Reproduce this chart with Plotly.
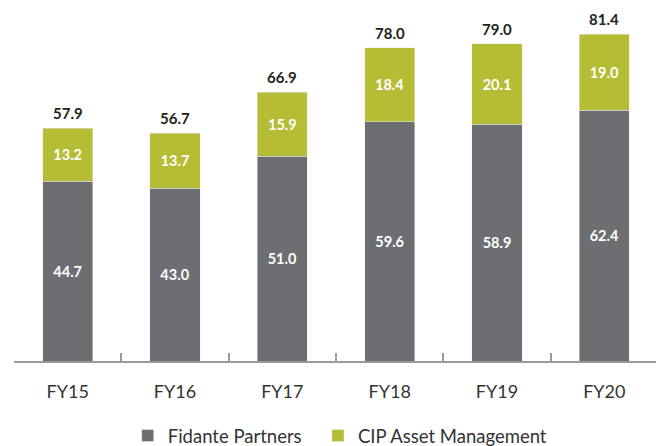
import plotly.graph_objects as go

categories = ["FY15", "FY16", "FY17", "FY18", "FY19", "FY20"]
fidante = [44.7, 43.0, 51.0, 59.6, 58.9, 62.4]
cip = [13.2, 13.7, 15.9, 18.4, 20.1, 19.0]
totals = [round(a + b, 1) for a, b in zip(fidante, cip)]

GRAY = "#6d6e71"
GREEN = "#b6bd34"
FONT = "Lato"

fig = go.Figure()
fig.add_trace(go.Bar(
    x=categories, y=fidante, name="Fidante Partners", marker_color=GRAY,
    text=[f"{v:.1f}" for v in fidante], textposition="inside",
    insidetextanchor="middle", legend="legend",
    textfont=dict(color="white", size=14.5, family=FONT, weight="bold"),
))
fig.add_trace(go.Bar(
    x=categories, y=cip, name="CIP Asset Management", marker_color=GREEN,
    text=[f"{v:.1f}" for v in cip], textposition="inside",
    insidetextanchor="middle", legend="legend2",
    textfont=dict(color="white", size=14.5, family=FONT, weight="bold"),
))
for c, t in zip(categories, totals):
    fig.add_annotation(x=c, y=t, text=f"{t:.1f}", showarrow=False,
                       yanchor="bottom", yshift=4,
                       font=dict(size=15, color="#222222", family=FONT, weight="bold"))

legend_style = dict(orientation="h", xanchor="left", y=-0.2125, yanchor="middle",
                    font=dict(size=18.5, color="#333333", family=FONT), itemwidth=30,
                    bgcolor="rgba(0,0,0,0)")

# page body has an 8px margin; figure sized to fill the rest of the window
fig.update_layout(
    barmode="stack", bargap=0.534,
    width=656, height=438,
    margin=dict(l=6.4, r=6.4, t=0, b=85, autoexpand=False),
    plot_bgcolor="white", paper_bgcolor="white",
    font=dict(family=FONT, color="#333333"),
    showlegend=True,
    legend=dict(x=0.1766, **legend_style),
    legend2=dict(x=0.472, **legend_style),
)
fig.update_xaxes(showline=True, linecolor="#9a9a9a", linewidth=2,
                 ticks="inside", tickson="boundaries", ticklen=8, tickwidth=2,
                 tickcolor="#9a9a9a", tickfont=dict(size=18, color="#333333", family=FONT),
                 ticklabelstandoff=13, showgrid=False, automargin=False)
fig.update_yaxes(range=[0, 87.88], visible=False, showgrid=False, automargin=False)

fig.write_html("out.html")
